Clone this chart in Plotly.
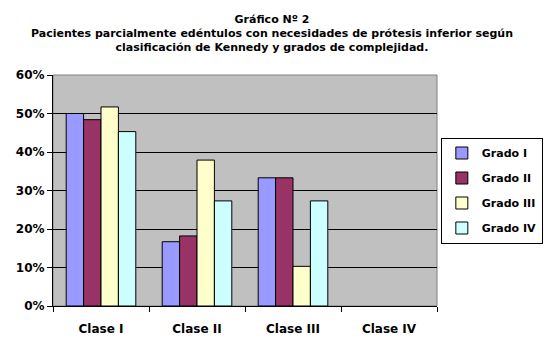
import plotly.graph_objects as go

categories = ["Clase I", "Clase II", "Clase III", "Clase IV"]
series_names = ["Grado I", "Grado II", "Grado III", "Grado IV"]
grado_1 = [50.0, 16.7, 33.3, 0]
grado_2 = [48.4, 18.2, 33.3, 0]
grado_3 = [51.7, 37.9, 10.3, 0]
grado_4 = [45.3, 27.3, 27.3, 0]
colors = ["#9999FF", "#993366", "#FFFFCC", "#CCFFFF"]
y_ticks = [0, 10, 20, 30, 40, 50, 60]
y_tick_labels = ["0%", "10%", "20%", "30%", "40%", "50%", "60%"]

FONT = "DejaVu Sans"

fig = go.Figure()
for name, vals, col in zip(series_names, [grado_1, grado_2, grado_3, grado_4], colors):
    fig.add_trace(go.Bar(
        x=categories, y=vals, name=name, legendgroup=name,
        marker=dict(color=col, line=dict(color="black", width=[1 if v > 0 else 0 for v in vals])),
    ))

fig.update_layout(
    width=544, height=348,
    margin=dict(l=53, r=107, t=75, b=42, autoexpand=False),
    paper_bgcolor="white", plot_bgcolor="#C0C0C0",
    barmode="group", bargap=0.275, bargroupgap=0,
    title=dict(
        text="Gráfico Nº 2<br>Pacientes parcialmente edéntulos con necesidades de prótesis inferior según<br>clasificación de Kennedy y grados de complejidad.",
        x=0.5, xanchor="center", xref="container", y=0.935, yanchor="top",
        font=dict(family=FONT, size=11, color="black", weight="bold"),
    ),
    showlegend=True,
    legend=dict(
        x=1.01, xanchor="left", y=0.5, yanchor="middle",
        bordercolor="black", borderwidth=1, bgcolor="white",
        font=dict(family=FONT, size=11, color="black", weight="bold"),
        tracegroupgap=6, itemwidth=30,
    ),
    font=dict(family=FONT, color="black"),
)
fig.update_yaxes(
    range=[0, 60], tickvals=y_ticks, ticktext=y_tick_labels, automargin=False,
    showgrid=True, gridcolor="black", gridwidth=1,
    showline=True, linecolor="black", linewidth=1,
    ticks="outside", ticklen=5, tickcolor="black",
    tickfont=dict(family=FONT, size=12, color="black", weight="bold"),
    zeroline=False,
)
fig.update_xaxes(
    showline=True, linecolor="black", linewidth=1, automargin=False,
    ticks="outside", ticklen=5, tickcolor="black", tickson="boundaries",
    tickfont=dict(family=FONT, size=12, color="black", weight="bold"),
    ticklabelstandoff=12,
)
fig.add_shape(type="rect", xref="paper", yref="paper", x0=0, x1=1, y0=0, y1=1,
              line=dict(color="#808080", width=1), layer="below")

fig.write_html("out.html", config={"displayModeBar": False},
               post_script="document.body.style.margin='0';")
